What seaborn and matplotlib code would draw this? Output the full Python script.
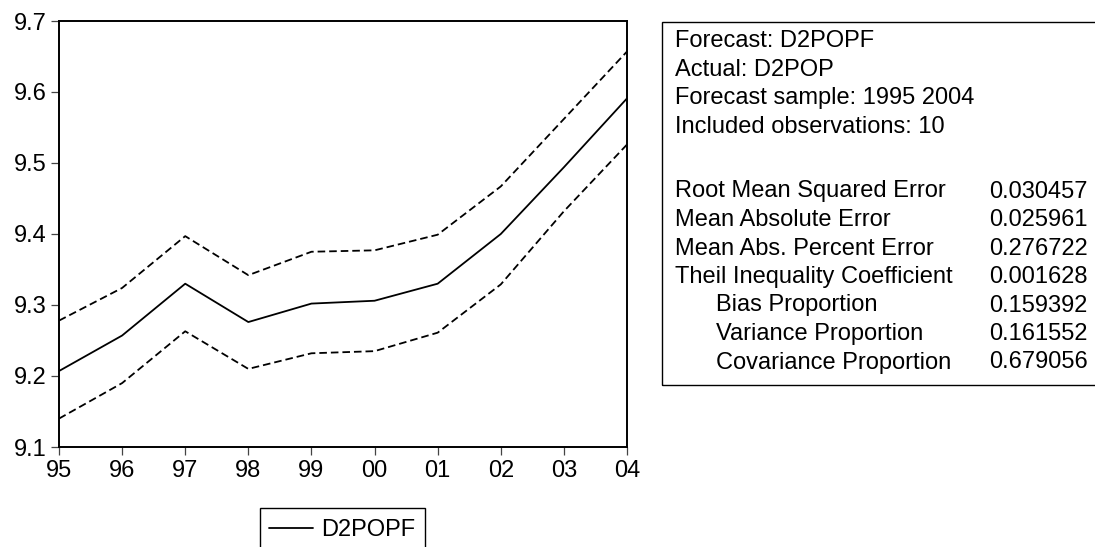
import matplotlib
matplotlib.use("Agg")
import matplotlib.pyplot as plt
import seaborn as sns
import pandas as pd
import numpy as np
from matplotlib.patches import Rectangle
from matplotlib.lines import Line2D

years = ["95", "96", "97", "98", "99", "00", "01", "02", "03", "04"]
forecast = [9.207, 9.257, 9.330, 9.276, 9.302, 9.306, 9.330, 9.400, 9.494, 9.591]
upper = [9.278, 9.324, 9.397, 9.342, 9.375, 9.377, 9.399, 9.467, 9.562, 9.657]
lower = [9.140, 9.190, 9.263, 9.210, 9.232, 9.235, 9.261, 9.329, 9.432, 9.526]

stat_header = ["Forecast: D2POPF", "Actual: D2POP", "Forecast sample: 1995 2004",
               "Included observations: 10"]
stat_names = ["Root Mean Squared Error", "Mean Absolute Error", "Mean Abs. Percent Error",
              "Theil Inequality Coefficient", "Bias Proportion", "Variance Proportion",
              "Covariance Proportion"]
stat_values = ["0.030457", "0.025961", "0.276722", "0.001628", "0.159392", "0.161552", "0.679056"]
stat_indent = [False, False, False, False, True, True, True]

sns.set_theme(style="white")
plt.rcParams["font.family"] = ["Liberation Sans", "DejaVu Sans"]

W, H = 1095, 547
FS = 17
fig = plt.figure(figsize=(W / 100, H / 100), dpi=100)
ax = fig.add_axes([59 / W, 1 - 447 / H, (627 - 59) / W, (447 - 21) / H])

x = np.arange(len(years))
df = pd.DataFrame({"x": x, "forecast": forecast, "upper": upper, "lower": lower})
dash = (0, (4.2, 2.2))
sns.lineplot(data=df, x="x", y="forecast", ax=ax, color="black", lw=1.3)
sns.lineplot(data=df, x="x", y="upper", ax=ax, color="black", lw=1.3, linestyle=dash)
sns.lineplot(data=df, x="x", y="lower", ax=ax, color="black", lw=1.3, linestyle=dash)

ax.set_xlim(0, len(years) - 1)
ax.set_ylim(9.1, 9.7)
ax.set_yticks([9.1, 9.2, 9.3, 9.4, 9.5, 9.6, 9.7])
ax.set_yticklabels(["9.1", "9.2", "9.3", "9.4", "9.5", "9.6", "9.7"])
ax.set_xticks(x)
ax.set_xticklabels(years)
ax.set_xlabel("")
ax.set_ylabel("")
for s in ax.spines.values():
    s.set_visible(True)
    s.set_color("black")
    s.set_linewidth(1.4)
ax.tick_params(axis="both", which="both", direction="out", length=6, width=0.9,
               color="#444444", labelsize=FS, labelcolor="black")
ax.tick_params(axis="x", bottom=True, top=False, pad=3.5)
ax.tick_params(axis="y", left=True, right=False, pad=3)

# Legend box (cut off at the bottom like the reference)
fig.patches.append(Rectangle((260 / W, 1 - 580 / H), (425 - 260) / W, (580 - 508) / H,
                             transform=fig.transFigure, fill=False, edgecolor="black",
                             lw=1.0, clip_on=False))
fig.legend(handles=[Line2D([0], [0], color="black", lw=1.3)], labels=["D2POPF"],
           loc="center left", bbox_to_anchor=(269 / W, 1 - 530 / H), frameon=False,
           fontsize=FS, handlelength=1.85, handletextpad=0.35, borderpad=0,
           borderaxespad=0, labelcolor="black")

# Statistics box
fig.patches.append(Rectangle((662 / W, 1 - 385 / H), (1110 - 662) / W, (385 - 22) / H,
                             transform=fig.transFigure, fill=False, edgecolor="black",
                             lw=1.0, clip_on=False))
ys_head = [41, 69.7, 98.4, 127]
for t, yy in zip(stat_header, ys_head):
    fig.text(675 / W, 1 - yy / H, t, fontsize=FS, va="center", ha="left", color="black")
ys_stat = [191.5, 220, 248.5, 277, 305.5, 334, 362.5]
for name, val, ind, yy in zip(stat_names, stat_values, stat_indent, ys_stat):
    fig.text((716 if ind else 675) / W, 1 - yy / H, name, fontsize=FS, va="center",
             ha="left", color="black")
    fig.text(989 / W, 1 - yy / H, val, fontsize=FS, va="center", ha="left", color="black")

fig.savefig("out.png", dpi=100, facecolor="white")
